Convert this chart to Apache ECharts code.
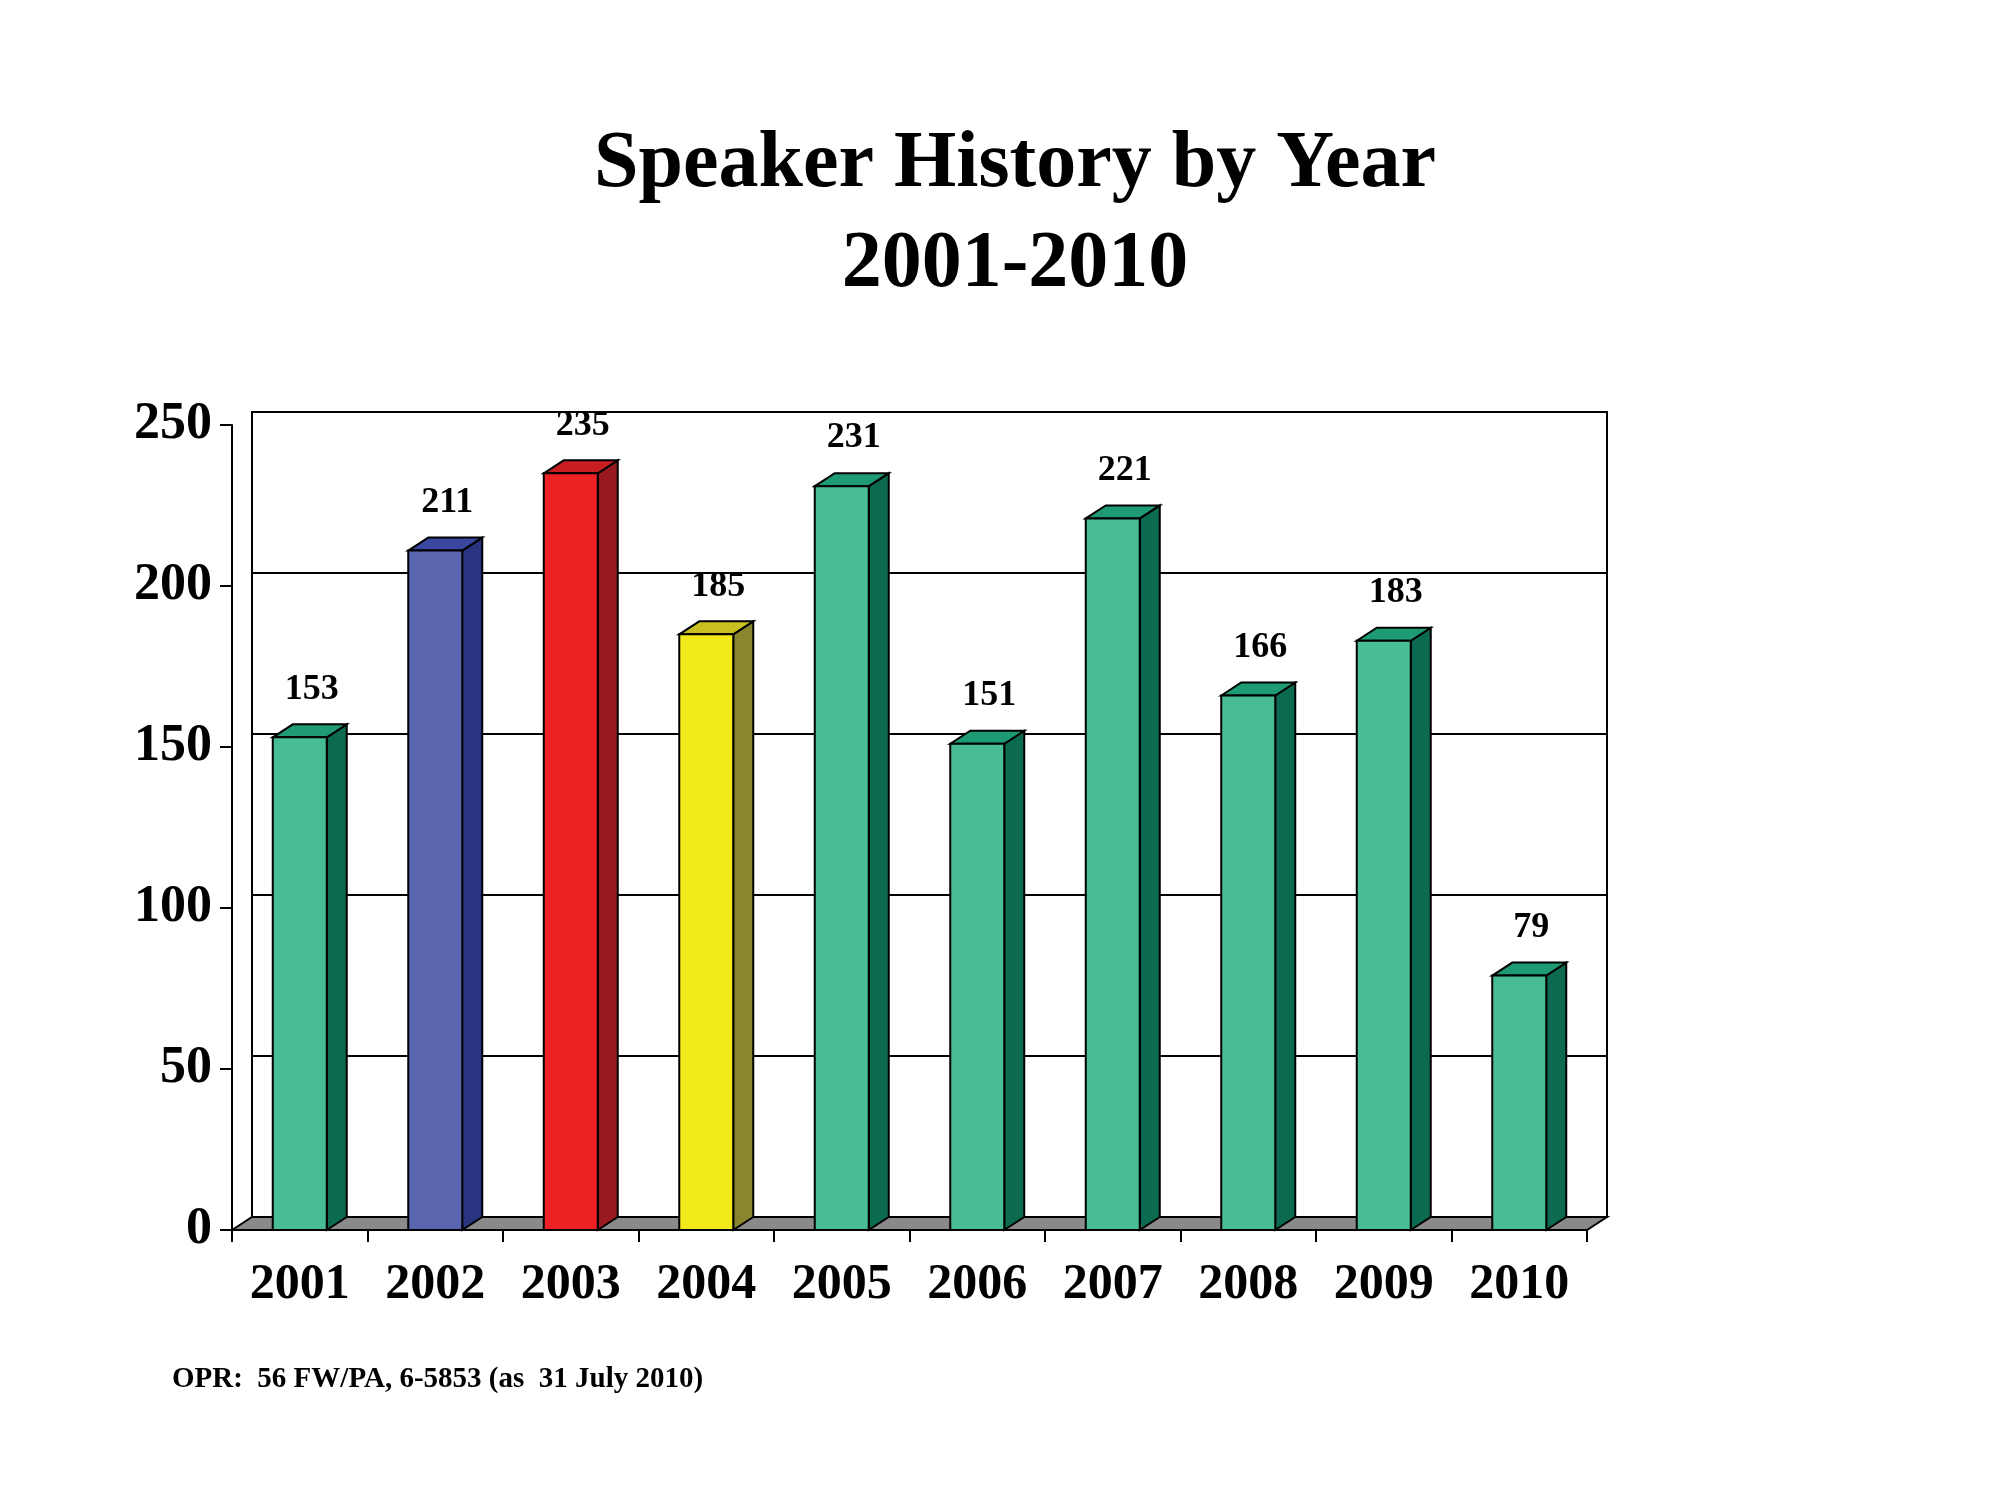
<!DOCTYPE html>
<html><head><meta charset="utf-8">
<script src="https://cdn.jsdelivr.net/npm/echarts@6/dist/echarts.min.js"></script>
<style>html,body{margin:0;background:#fff}#c{width:2000px;height:1500px}</style>
</head><body><div id="c"></div>
<script>
const years = ['2001','2002','2003','2004','2005','2006','2007','2008','2009','2010'];
const speakers = [153,211,235,185,231,151,221,166,183,79];
const yTicks = [0,50,100,150,200,250];
const pal = {
  green:['#48BC94','#0B6A50','#1E9A74'],
  blue:['#5A66B0','#283480','#3A47A0'],
  red:['#EE2224','#981A1E','#C81E22'],
  yellow:['#F2EA1A','#8A8630','#C8C020']
};
const barColors = ['green','blue','red','yellow','green','green','green','green','green','green'];
const DX=20, DY=13, BW=54;
const F='"Liberation Serif","Times New Roman",serif';
const chart = echarts.init(document.getElementById('c'));
chart.setOption({
  animation:false,
  title:{text:'Speaker History by Year\n2001-2010',left:1010,top:110,textAlign:'center',
    textStyle:{fontFamily:F,fontWeight:'bold',fontSize:80,lineHeight:100,color:'#000'}},
  grid:[{left:232,top:425,width:1355,height:805},
        {left:232+DX,top:425-DY,width:1355,height:805,show:true,borderColor:'#000',borderWidth:2}],
  xAxis:[{gridIndex:0,type:'category',data:years,axisLine:{lineStyle:{color:'#000',width:2}},
          axisTick:{show:true,length:12,lineStyle:{color:'#000',width:2}},
          axisLabel:{fontFamily:F,fontWeight:'bold',fontSize:50,color:'#000',margin:30}},
         {gridIndex:1,type:'category',data:years,show:false}],
  yAxis:[{gridIndex:0,type:'value',min:0,max:250,interval:50,
          axisLine:{show:true,lineStyle:{color:'#000',width:2}},
          axisTick:{show:true,length:12,lineStyle:{color:'#000',width:2}},splitLine:{show:false},
          axisLabel:{fontFamily:F,fontWeight:'bold',fontSize:52,color:'#000',margin:20,
            formatter:v=>yTicks.includes(v)?String(v):''}},
         {gridIndex:1,type:'value',min:0,max:250,interval:50,axisLabel:{show:false},
          axisLine:{show:false},axisTick:{show:false},splitLine:{lineStyle:{color:'#000',width:2}}}],
  graphic:[{type:'text',left:172,top:1365,style:{text:'OPR:  56 FW/PA, 6-5853 (as  31 July 2010)',
     font:'bold 29px '+F,fill:'#000'}}],
  series:[
   {type:'custom',xAxisIndex:0,yAxisIndex:0,data:[[0]],z:1,
    renderItem:(p,api)=>{const c=p.coordSys;const y=c.y+c.height;
      return {type:'polygon',shape:{points:[[c.x,y],[c.x+DX,y-DY],[c.x+c.width+DX,y-DY],[c.x+c.width,y]]},
        style:{fill:'#8a8a8a',stroke:'#000',lineWidth:2}};}},
   {type:'custom',xAxisIndex:0,yAxisIndex:0,z:5,
    data:speakers.map((v,i)=>[i,v]),
    renderItem:(p,api)=>{
      const i=api.value(0),v=api.value(1);const top=api.coord([i,v]);const base=api.coord([i,0]);
      const x0=top[0]-BW/2,x1=top[0]+BW/2,yt=top[1],yb=base[1];
      const col=pal[barColors[i]];
      return {type:'group',children:[
        {type:'polygon',shape:{points:[[x1,yt],[x1+DX,yt-DY],[x1+DX,yb-DY],[x1,yb]]},style:{fill:col[1],stroke:'#000',lineWidth:2}},
        {type:'polygon',shape:{points:[[x0,yt],[x0+DX,yt-DY],[x1+DX,yt-DY],[x1,yt]]},style:{fill:col[2],stroke:'#000',lineWidth:2}},
        {type:'rect',shape:{x:x0,y:yt,width:BW,height:yb-yt},style:{fill:col[0],stroke:'#000',lineWidth:2}},
        {type:'text',style:{text:String(v),x:top[0]+12,y:yt-48,align:'center',verticalAlign:'middle',
          font:'bold 36px '+F,fill:'#000'}}
      ]};}}
  ]
});
</script></body></html>
